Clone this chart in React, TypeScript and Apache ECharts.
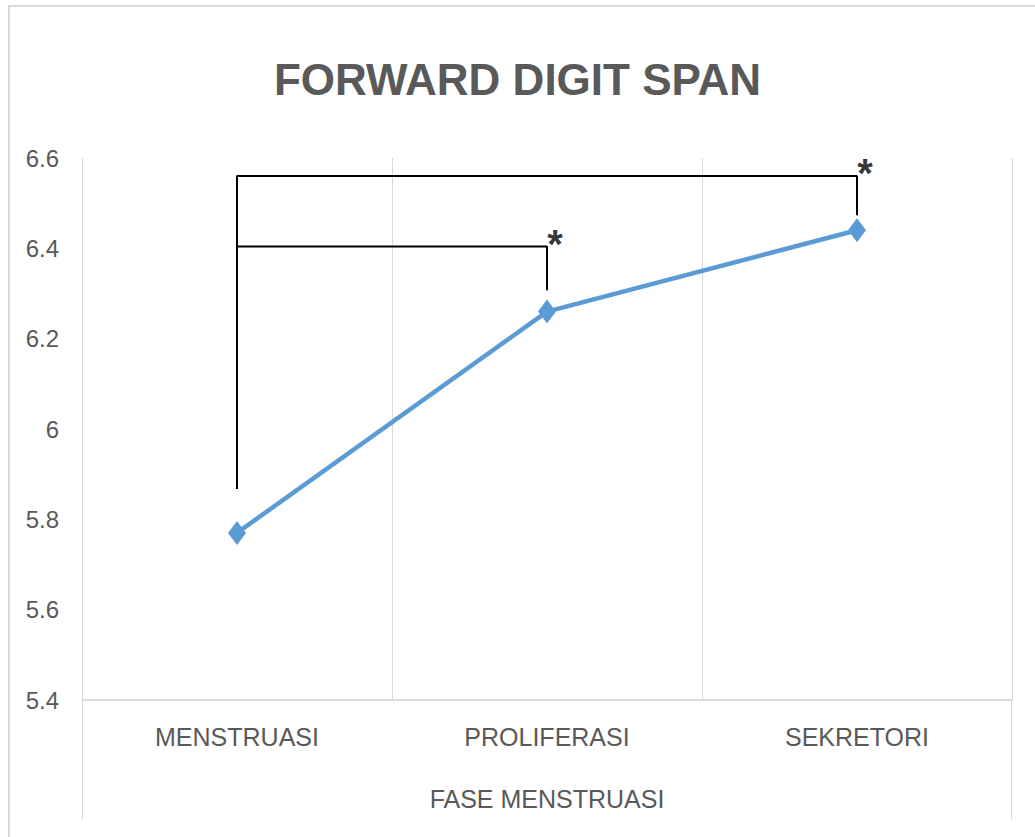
import React, { useEffect, useRef } from 'react';
import * as echarts from 'echarts';

const title = 'FORWARD DIGIT SPAN';
const xAxisTitle = 'FASE MENSTRUASI';
const categories = ['MENSTRUASI', 'PROLIFERASI', 'SEKRETORI'];
const values = [5.77, 6.26, 6.44];
const yMin = 5.4;
const yMax = 6.6;
const yInterval = 0.2;
// significance brackets (category index, value)
const bracketOuter = [[0, 5.867], [0, 6.56], [2, 6.56], [2, 6.473]];
const bracketInner = [[0, 6.404], [1, 6.404], [1, 6.307]];
const starPoints = [[1, 6.404], [2, 6.56]];

const TEXT = '#595959';
const GRID = '#d9d9d9';
const FONT = "'Liberation Sans', Arial, sans-serif";

export default function App() {
  const ref = useRef<HTMLDivElement>(null);
  useEffect(() => {
    const chart = echarts.init(ref.current!, null, { renderer: 'svg' });
    const gLeft = 82;
    const gRight = 23;
    const gTop = 158;
    const gBottom = 137;
    const W = 1035;
    const H = 837;
    chart.setOption({
      animation: false,
      backgroundColor: '#ffffff',
      textStyle: { fontFamily: FONT },
      title: {
        text: title,
        left: 'center',
        top: 52,
        textStyle: { fontFamily: FONT, fontSize: 44, fontWeight: 'bold', color: TEXT },
      },
      grid: { left: gLeft, right: gRight, top: gTop, bottom: gBottom },
      xAxis: {
        type: 'category',
        data: categories,
        boundaryGap: true,
        name: xAxisTitle,
        nameLocation: 'middle',
        nameGap: 86,
        nameTextStyle: { fontFamily: FONT, fontSize: 25, color: TEXT },
        axisLine: { show: true, lineStyle: { color: GRID, width: 2 } },
        axisTick: { show: false },
        axisLabel: { margin: 24, fontFamily: FONT, fontSize: 25, color: TEXT },
        splitLine: { show: true, lineStyle: { color: GRID, width: 1 } },
      },
      yAxis: {
        type: 'value',
        min: yMin,
        max: yMax,
        interval: yInterval,
        axisLine: { show: false },
        axisTick: { show: false },
        splitLine: { show: false },
        axisLabel: {
          margin: 23,
          fontFamily: FONT,
          fontSize: 24,
          color: TEXT,
          formatter: (v: number) => String(Math.round(v * 10) / 10),
        },
      },
      graphic: [
        {
          type: 'rect',
          shape: { x: 9, y: 6, width: 1100, height: 900 },
          style: { fill: 'none', stroke: GRID, lineWidth: 2 },
          silent: true,
          z: -10,
        },
        {
          type: 'line',
          shape: { x1: gLeft + 0.5, y1: H - gBottom, x2: gLeft + 0.5, y2: 820 },
          style: { stroke: GRID, lineWidth: 1 },
          silent: true,
        },
        {
          type: 'line',
          shape: { x1: W - gRight - 0.5, y1: H - gBottom, x2: W - gRight - 0.5, y2: 820 },
          style: { stroke: GRID, lineWidth: 1 },
          silent: true,
        },
      ],
      series: [
        {
          type: 'line',
          data: values,
          symbol: 'diamond',
          symbolSize: [18, 24],
          lineStyle: { color: '#5b9bd5', width: 4.5 },
          itemStyle: { color: '#5b9bd5' },
          z: 3,
        },
        {
          type: 'line',
          data: bracketOuter,
          symbol: 'none',
          lineStyle: { color: '#000', width: 2 },
          z: 2,
        },
        {
          type: 'line',
          data: bracketInner,
          symbol: 'none',
          lineStyle: { color: '#000', width: 2 },
          z: 2,
        },
        {
          type: 'scatter',
          data: starPoints,
          symbolSize: 0,
          label: {
            show: true,
            formatter: '*',
            position: 'inside',
            offset: [8, -3],
            align: 'center',
            verticalAlign: 'middle',
            fontFamily: FONT,
            fontSize: 40,
            fontWeight: 'bold',
            color: '#000',
          },
          z: 4,
        },
      ],
    });
    return () => chart.dispose();
  }, []);
  return (
    <div
      ref={ref}
      style={{ position: 'fixed', left: 0, top: 0, width: 1035, height: 837, background: '#fff' }}
    />
  );
}
